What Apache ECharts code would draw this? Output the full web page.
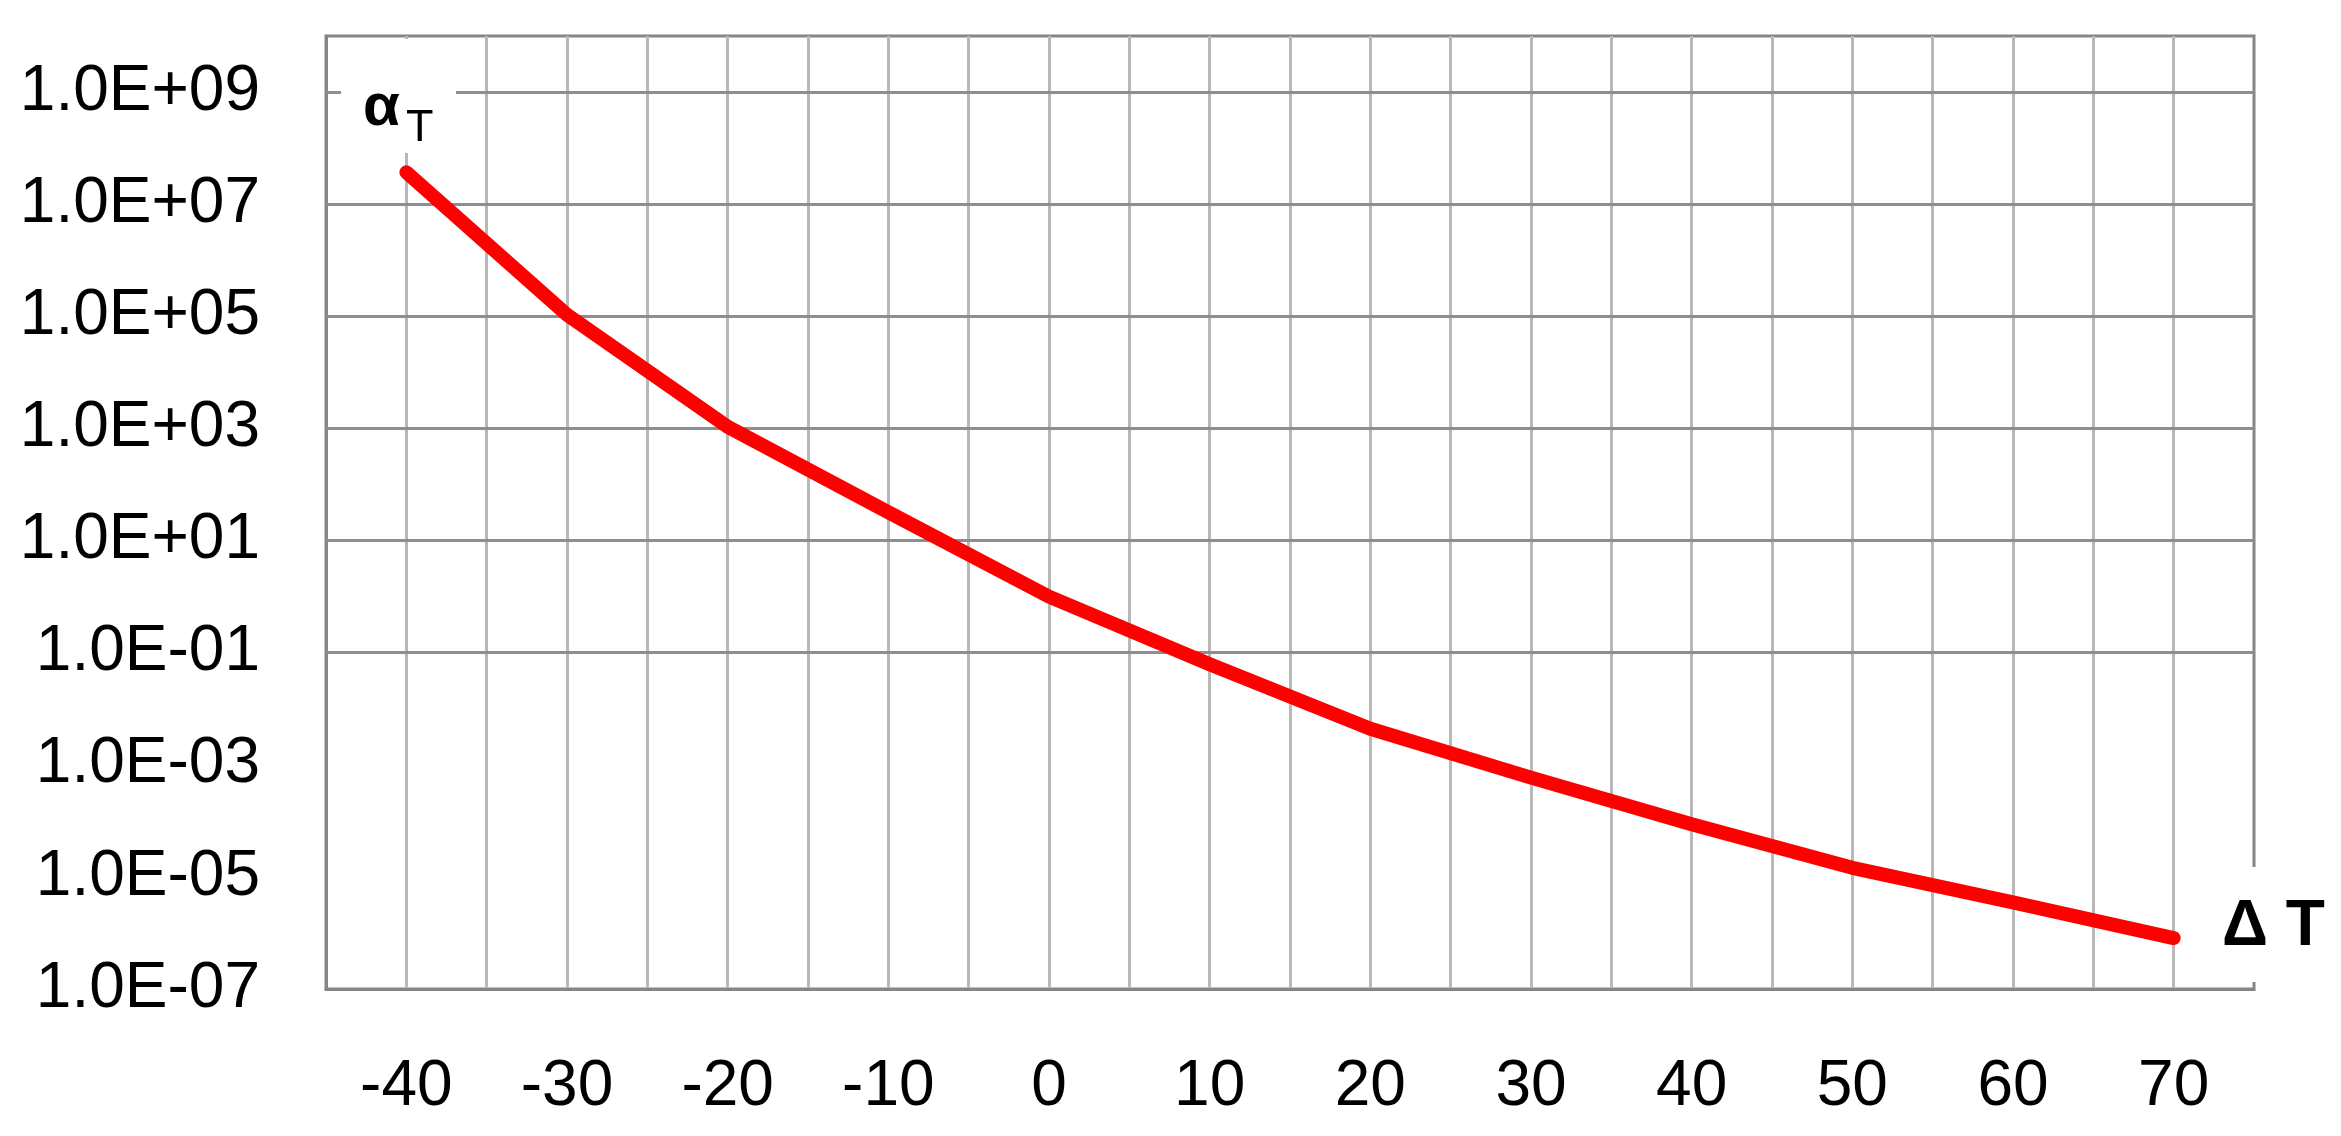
<!DOCTYPE html>
<html><head><meta charset="utf-8">
<script src="https://cdn.jsdelivr.net/npm/echarts@6/dist/echarts.min.js"></script>
<style>html,body{margin:0;padding:0;background:#fff}#c{width:2341px;height:1136px}</style>
</head><body><div id="c"></div>
<script>
// temperature shift ΔT (°C)
const deltaT = [-40, -30, -20, -10, 0, 10, 20, 30, 40, 50, 60, 70];
// shift factor αT
const alphaT = [3.7e7, 1.07e5, 1.07e3, 32, 1.0, 0.062, 4.4e-3, 5.9e-4, 8.7e-5, 1.45e-5, 3.5e-6, 8.1e-7];
// y tick labels and horizontal gridlines
const yLabelValues = [1e-7, 1e-5, 1e-3, 1e-1, 1e1, 1e3, 1e5, 1e7, 1e9];
const yGridValues = [1e-3, 1e-1, 1e1, 1e3, 1e5, 1e7, 1e9];
const xLabelValues = [-40, -30, -20, -10, 0, 10, 20, 30, 40, 50, 60, 70];

function sci(v) {
  const e = Math.round(Math.log10(v));
  const s = e < 0 ? '-' : '+';
  const a = Math.abs(e);
  return '1.0E' + s + (a < 10 ? '0' + a : '' + a);
}

const FONT = 'Liberation Sans';
const chart = echarts.init(document.getElementById('c'), null, {renderer: 'canvas'});
chart.setOption({
  animation: false,
  backgroundColor: '#fff',
  grid: {left: 326, right: 87, top: 36, bottom: 147, show: true, borderColor: '#868686', borderWidth: 3},
  xAxis: {
    type: 'value', min: -45, max: 75, interval: 5,
    axisLine: {show: true, onZero: false, lineStyle: {color: '#868686', width: 3}},
    axisTick: {show: false},
    axisLabel: {
      margin: 66, fontSize: 64, fontFamily: FONT, color: '#000',
      formatter: v => (xLabelValues.indexOf(v) >= 0 ? String(v) : '')
    },
    splitLine: {show: true, showMinLine: false, showMaxLine: false, lineStyle: {color: '#b8b8b8', width: 3}}
  },
  yAxis: {
    type: 'log', logBase: 10, min: 1e-7, max: 1e10,
    axisLine: {show: true, onZero: false, lineStyle: {color: '#868686', width: 3}},
    axisTick: {show: false},
    axisLabel: {
      margin: 66, fontSize: 64, fontFamily: FONT, color: '#000',
      customValues: yLabelValues,
      formatter: v => sci(v)
    },
    splitLine: {show: false}
  },
  series: [
    {
      type: 'line', data: [], z: 2, silent: true,
      markLine: {
        silent: true, symbol: 'none', z: 2, animation: false,
        label: {show: false},
        lineStyle: {color: '#8e8e8e', width: 3, type: 'solid'},
        data: yGridValues.map(v => ({yAxis: v}))
      }
    },
    {
      type: 'line',
      data: deltaT.map((x, i) => [x, alphaT[i]]),
      showSymbol: false,
      lineStyle: {color: '#ff0000', width: 14, cap: 'round', join: 'round'},
      z: 10
    }
  ],
  graphic: [
    {type: 'rect', z: 100, shape: {x: 341, y: 39, width: 115, height: 114}, style: {fill: '#fff'}},
    {type: 'text', z: 101, x: 363, y: 108, style: {text: 'α', font: 'bold 60px "Liberation Sans"', fill: '#000', verticalAlign: 'middle', align: 'left'}},
    {type: 'text', z: 101, x: 406, y: 129, style: {text: 'T', font: '45px "Liberation Sans"', fill: '#000', verticalAlign: 'middle', align: 'left'}},
    {type: 'rect', z: 100, shape: {x: 2205, y: 867, width: 136, height: 115}, style: {fill: '#fff'}},
    {type: 'text', z: 101, x: 2222, y: 927, style: {text: 'Δ T', font: 'bold 64px "Liberation Sans"', fill: '#000', verticalAlign: 'middle', align: 'left'}}
  ]
});
</script>
</body></html>
